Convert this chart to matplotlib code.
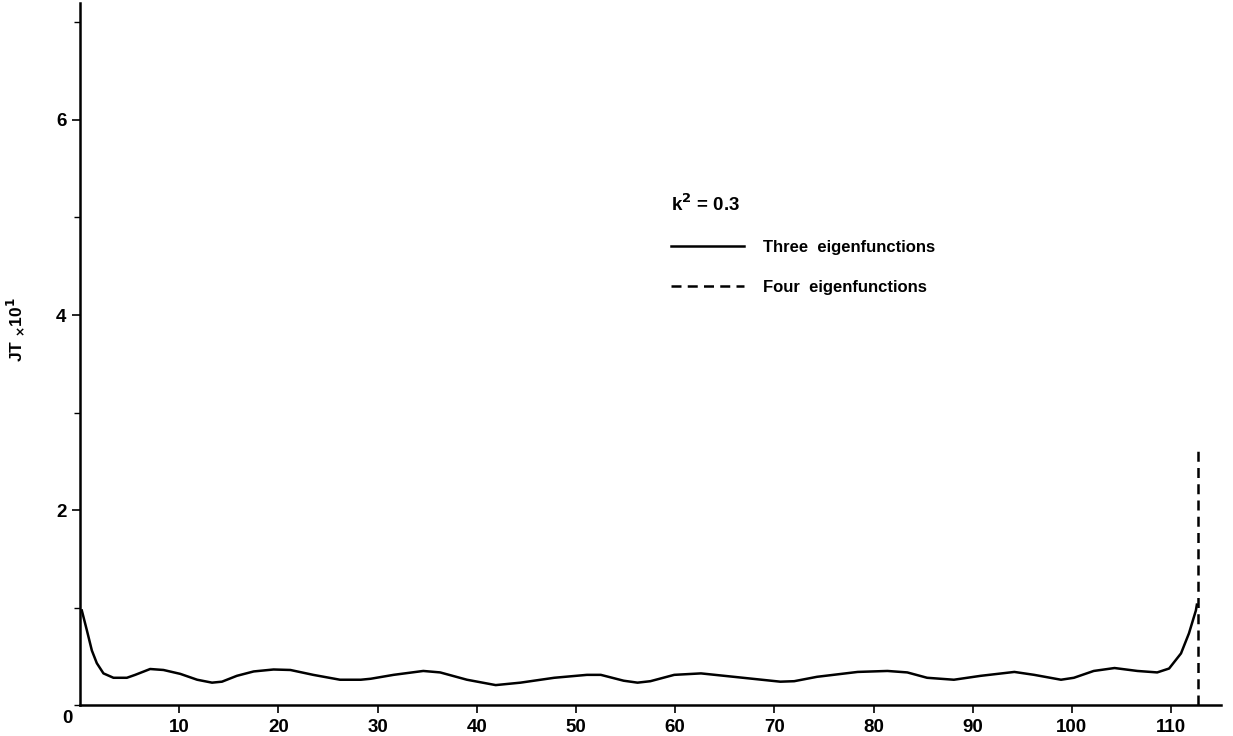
import matplotlib
matplotlib.use("Agg")
import matplotlib.pyplot as plt
from matplotlib.ticker import MultipleLocator

plt.rcParams["font.family"] = ["Liberation Sans", "DejaVu Sans"]
plt.rcParams["font.weight"] = "bold"

# three eigenfunctions curve
x3 = [0.17, 0.67, 1.18, 1.68, 2.35, 3.36, 4.71, 5.55, 7.06, 8.4, 10.1, 11.8, 13.3, 14.3,
      15.8, 17.5, 19.5, 21.2, 23.5, 26.2, 28.3, 29.3, 31.6, 34.6, 36.3, 39.0, 41.9,
      44.4, 47.8, 51.1, 52.5, 54.8, 56.2, 57.5, 59.9, 62.6, 65.9, 70.6, 72.0, 74.3,
      78.4, 81.4, 83.4, 85.4, 88.1, 90.8, 94.2, 96.2, 98.9, 100.2, 102.2, 104.3,
      106.6, 108.6, 109.8, 111.0, 111.8, 112.5, 112.6]
y3 = [0.97, 0.77, 0.56, 0.43, 0.325, 0.28, 0.28, 0.31, 0.37, 0.36, 0.32, 0.26, 0.23, 0.24,
      0.30, 0.345, 0.365, 0.36, 0.31, 0.26, 0.26, 0.27, 0.31, 0.35, 0.335, 0.26, 0.205,
      0.23, 0.28, 0.31, 0.31, 0.25, 0.23, 0.245, 0.31, 0.325, 0.29, 0.24, 0.245, 0.29,
      0.34, 0.35, 0.335, 0.28, 0.26, 0.30, 0.34, 0.31, 0.26, 0.28, 0.35, 0.38,
      0.35, 0.335, 0.375, 0.53, 0.735, 0.97, 1.03]

# four eigenfunctions: rises vertically at the end
x4 = [112.7, 112.7]
y4 = [0.0, 2.62]

fig = plt.figure(figsize=(12.33, 7.36), dpi=100)
ax = fig.add_axes([0.065, 0.042, 0.925, 0.954])

ax.plot(x3, y3, color="black", lw=1.8, label="Three  eigenfunctions")
ax.plot(x4, y4, color="black", lw=1.8, ls=(0, (4, 2.5)), label="Four  eigenfunctions")

ax.set_xlim(0, 115)
ax.set_ylim(0, 7.2)
ax.spines["top"].set_visible(False)
ax.spines["right"].set_visible(False)
ax.spines["left"].set_linewidth(1.8)
ax.spines["bottom"].set_linewidth(1.8)

ax.set_xticks(range(10, 111, 10))
ax.set_yticks([2, 4, 6])
ax.yaxis.set_minor_locator(MultipleLocator(1))
ax.tick_params(axis="both", which="major", length=6, width=1.2, labelsize=13.5, pad=4)
ax.tick_params(axis="y", which="minor", length=4, width=1.0)
for lab in ax.get_xticklabels() + ax.get_yticklabels():
    lab.set_fontweight("bold")

ax.annotate("0", xy=(0, 0), xytext=(-9, -10), textcoords="offset points",
            ha="center", va="center", fontsize=13.5, fontweight="bold")

ax.set_ylabel("JT $_{\\times}$10$^{\\mathbf{1}}$", fontsize=12.5, fontweight="bold")
ax.yaxis.set_label_coords(-0.047, 0.535)

leg = ax.legend(loc="upper left", bbox_to_anchor=(0.505, 0.75), frameon=False,
                title="k$^{\\mathbf{2}}$ = 0.3", title_fontsize=13.5,
                prop={"size": 12, "weight": "bold"}, handlelength=4.4,
                handletextpad=1.1, labelspacing=1.5, alignment="left")
leg.get_title().set_fontweight("bold")

fig.savefig("out.png", dpi=100)
